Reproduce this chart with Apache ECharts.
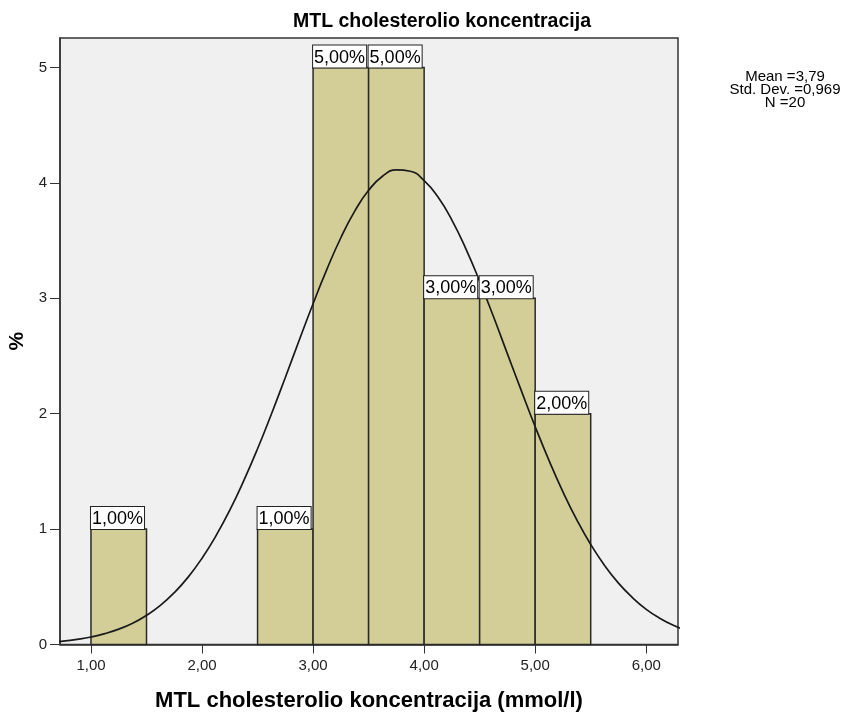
<!DOCTYPE html>
<html lang="en" style="height: 100%">
<head>
  <meta charset="utf-8">
</head>
<body style="height: 100%; margin: 0; background: #fff">
  <div id="container" style="width: 847px; height: 716px"></div>

  <script type="text/javascript" src="https://cdn.jsdelivr.net/npm/echarts@6/dist/echarts.min.js"></script>

  <script type="text/javascript">
    // histogram bins (mmol/l) and their heights (%)
    var binStart = [1.0, 2.5, 3.0, 3.5, 4.0, 4.5, 5.0];
    var binEnd   = [1.5, 3.0, 3.5, 4.0, 4.5, 5.0, 5.5];
    var binValue = [1, 1, 5, 5, 3, 3, 2];
    var binLabel = ['1,00%', '1,00%', '5,00%', '5,00%', '3,00%', '3,00%', '2,00%'];

    // normal curve
    var curveX = [0.625, 0.75, 0.875, 1.0, 1.125, 1.25, 1.375, 1.5, 1.625, 1.75, 1.875, 2.0,
                  2.125, 2.25, 2.375, 2.5, 2.625, 2.75, 2.875, 3.0, 3.125, 3.25, 3.375, 3.5,
                  3.625, 3.75, 3.875, 4.0, 4.125, 4.25, 4.375, 4.5, 4.625, 4.75, 4.875, 5.0,
                  5.125, 5.25, 5.375, 5.5, 5.625, 5.75, 5.875, 6.0, 6.125, 6.25, 6.375];
    var curveY = [0.020, 0.030, 0.045, 0.065, 0.094, 0.133, 0.184, 0.253, 0.339, 0.449, 0.584, 0.748,
                  0.941, 1.164, 1.418, 1.696, 1.998, 2.314, 2.637, 2.953, 3.253, 3.525, 3.756, 3.936,
                  4.058, 4.113, 4.101, 4.021, 3.878, 3.678, 3.431, 3.147, 2.840, 2.519, 2.200, 1.887,
                  1.594, 1.323, 1.080, 0.867, 0.685, 0.532, 0.407, 0.305, 0.226, 0.164, 0.117];

    var xTicks = [1, 2, 3, 4, 5, 6];
    var yTicks = [0, 1, 2, 3, 4, 5];
    var statLines = ['Mean =3,79', 'Std. Dev. =0,969', 'N =20'];

    var FONT = 'Liberation Sans, Arial, sans-serif';

    var bins = binStart.map(function (s, i) {
      return [s, binEnd[i], binValue[i], binLabel[i]];
    });
    var curve = curveX.map(function (x, i) { return [x, curveY[i]]; });

    var dom = document.getElementById('container');
    var myChart = echarts.init(dom, null, { renderer: 'canvas' });

    var option = {
      backgroundColor: '#fff',
      animation: false,
      title: {
        text: 'MTL cholesterolio koncentracija',
        left: 442,
        top: 12,
        padding: 0,
        textAlign: 'center',
        textStyle: { fontFamily: FONT, fontWeight: 'bold', fontSize: 19.5, color: '#000' }
      },
      graphic: [{
        type: 'text',
        x: 785,
        y: 70,
        style: {
          text: statLines.join('\n'),
          align: 'center',
          verticalAlign: 'top',
          font: '15px ' + FONT,
          lineHeight: 13,
          fill: '#000'
        }
      }],
      grid: {
        left: 60, right: 169, top: 38, bottom: 71.5,
        outerBoundsMode: 'none',
        show: true,
        backgroundColor: '#f0f0f0',
        borderColor: '#333',
        borderWidth: 1.5
      },
      xAxis: {
        type: 'value',
        min: 0.721,
        max: 6.286,
        name: 'MTL cholesterolio koncentracija (mmol/l)',
        nameLocation: 'middle',
        nameGap: 45,
        nameTextStyle: { fontFamily: FONT, fontWeight: 'bold', fontSize: 22, color: '#000' },
        splitLine: { show: false },
        axisLine: { lineStyle: { color: '#333', width: 1.5 } },
        axisTick: { customValues: xTicks, length: 9, lineStyle: { color: '#333' } },
        axisLabel: {
          customValues: xTicks,
          margin: 14,
          fontFamily: FONT, fontSize: 15, color: '#222',
          formatter: function (v) { return v.toFixed(2).replace('.', ','); }
        }
      },
      yAxis: {
        type: 'value',
        min: 0,
        max: 5.256,
        name: '%',
        nameLocation: 'middle',
        nameGap: 30,
        nameRotate: 90,
        nameTextStyle: { fontFamily: FONT, fontWeight: 'bold', fontSize: 21, color: '#000' },
        splitLine: { show: false },
        axisLine: { lineStyle: { color: '#333', width: 1.5 } },
        axisTick: { customValues: yTicks, length: 10, lineStyle: { color: '#333' } },
        axisLabel: {
          customValues: yTicks,
          margin: 13,
          fontFamily: FONT, fontSize: 15, color: '#222'
        }
      },
      series: [
        {
          type: 'custom',
          data: bins,
          z: 2,
          renderItem: function (params, api) {
            var tl = api.coord([api.value(0), api.value(2)]);
            var br = api.coord([api.value(1), 0]);
            return {
              type: 'rect',
              shape: { x: tl[0], y: tl[1], width: br[0] - tl[0], height: br[1] - tl[1] },
              style: { fill: '#d3ce98', stroke: '#2a2a2a', lineWidth: 1.5 }
            };
          }
        },
        {
          type: 'line',
          data: curve,
          z: 3,
          smooth: 0.5,
          showSymbol: false,
          clip: true,
          lineStyle: { color: '#1a1a1a', width: 1.7 }
        },
        {
          type: 'custom',
          data: bins,
          z: 4,
          renderItem: function (params, api) {
            var tl = api.coord([api.value(0), api.value(2)]);
            return {
              type: 'text',
              x: tl[0],
              y: tl[1],
              style: {
                text: bins[params.dataIndex][3],
                font: '18px ' + FONT,
                fill: '#000',
                align: 'left',
                verticalAlign: 'bottom',
                backgroundColor: '#fff',
                borderColor: '#222',
                borderWidth: 1,
                padding: [3, 1, 1, 1]
              }
            };
          }
        }
      ]
    };

    myChart.setOption(option);
    window.addEventListener('resize', myChart.resize);
  </script>
</body>
</html>
